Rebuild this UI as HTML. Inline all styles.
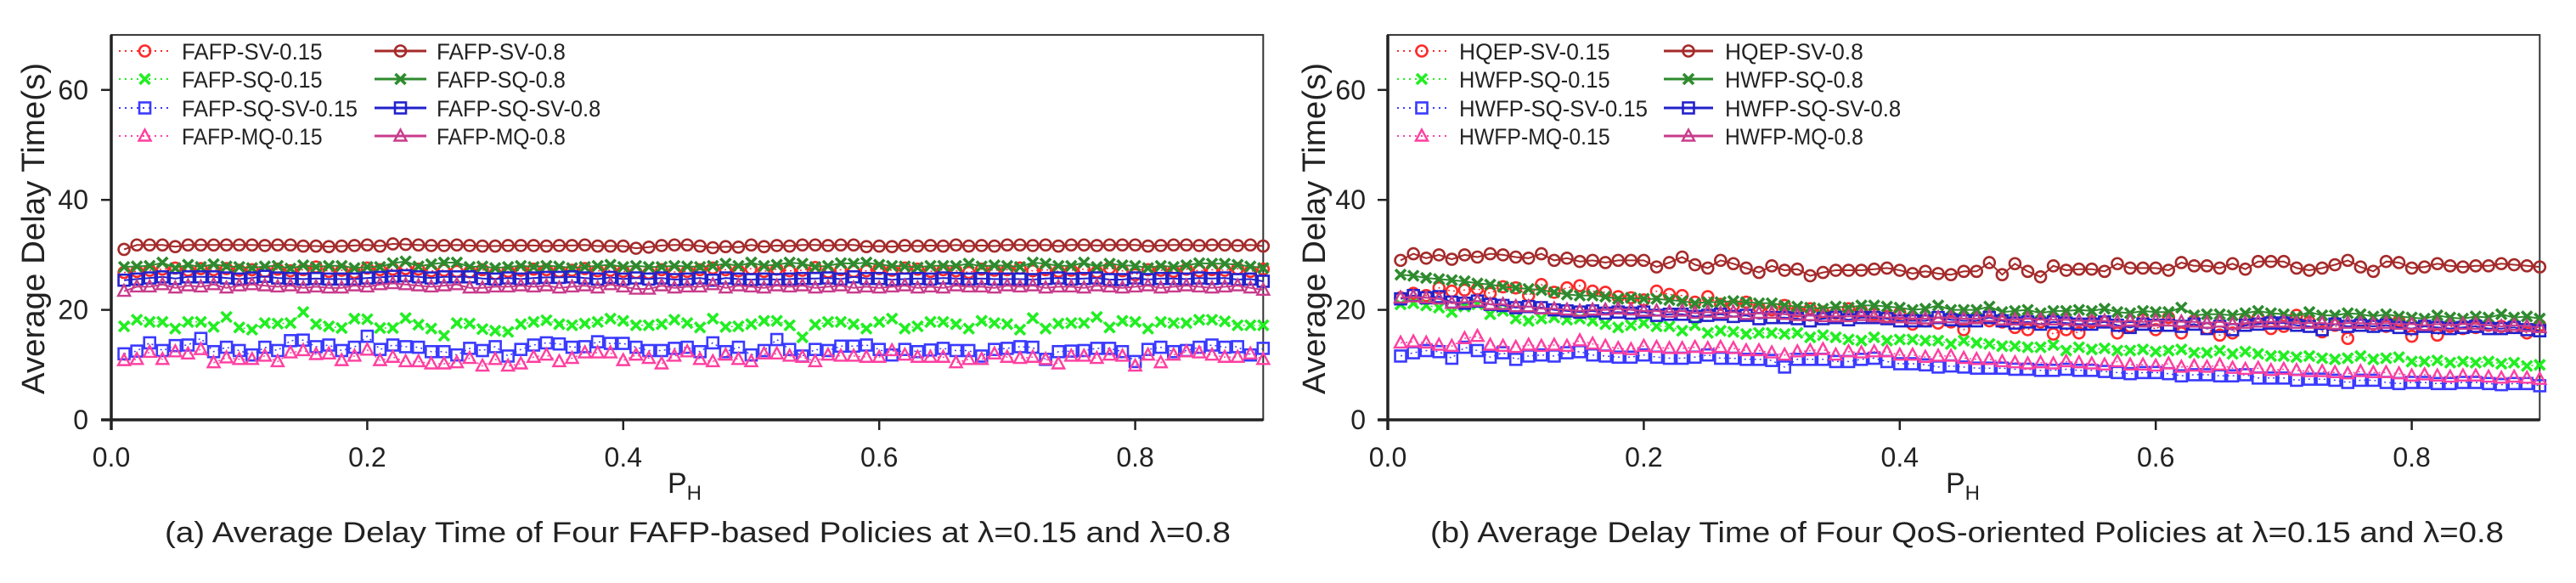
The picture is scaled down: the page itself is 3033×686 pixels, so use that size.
<!DOCTYPE html>
<html><head><meta charset="utf-8"><style>
html,body{margin:0;padding:0;background:#fff;}
svg{display:block;font-family:"Liberation Sans",Arial,sans-serif;}
</style></head><body>
<svg id="chart" width="3033" height="686" viewBox="0 0 3033 686" xmlns="http://www.w3.org/2000/svg"></svg>
<script>
const xTicks=[0.0,0.2,0.4,0.6,0.8];
const xTickLabels=["0.0","0.2","0.4","0.6","0.8"];
const yTicks=[0,20,40,60];
const yTickLabels=["0","20","40","60"];
// panel (a)
const aSV15=[26.8,27.0,27.2,27.4,27.6,27.2,27.5,27.3,27.5,27.2,27.3,27.0,27.4,27.1,27.3,27.8,27.0,27.2,26.8,27.6,27.3,27.4,27.5,27.4,27.1,27.2,27.0,26.9,27.3,26.6,27.0,27.2,27.4,27.3,27.0,27.2,27.5,27.1,27.2,27.0,26.8,26.7,27.3,26.9,27.0,27.3,27.6,27.3,27.1,27.5,27.0,27.4,27.1,27.2,27.7,26.9,27.3,27.0,27.1,27.5,27.2,27.6,27.4,27.0,27.3,27.1,26.8,27.4,27.2,27.3,27.6,27.1,27.3,27.0,27.2,27.4,26.9,27.6,27.1,26.4,27.3,27.2,27.0,27.4,27.1,27.3,27.2,27.5,27.0,27.4];
const aSV8=[31.0,31.8,31.8,31.8,31.5,31.8,31.8,31.8,31.8,31.8,31.8,31.7,31.8,31.8,31.6,31.6,31.5,31.6,31.7,31.8,31.6,32.0,31.9,31.8,31.7,31.7,31.8,31.7,31.6,31.6,31.7,31.7,31.7,31.6,31.7,31.7,31.8,31.6,31.6,31.6,31.2,31.4,31.7,31.8,31.8,31.6,31.3,31.5,31.4,31.8,31.5,31.7,31.6,31.8,31.8,31.7,31.8,31.8,31.5,31.6,31.5,31.7,31.6,31.7,31.6,31.8,31.6,31.7,31.6,31.8,31.8,31.7,31.8,31.6,31.8,31.8,31.7,31.8,31.8,31.8,31.6,31.7,31.8,31.8,31.7,31.8,31.8,31.7,31.8,31.6];
const aSQ15=[17.0,18.2,17.8,17.8,16.6,17.8,17.8,16.9,18.7,16.8,16.4,17.6,17.5,17.6,19.6,17.4,17.0,16.7,18.4,18.3,16.7,16.7,18.5,17.3,16.6,15.3,17.6,17.5,16.5,16.2,16.0,17.4,17.8,18.1,17.4,17.2,17.5,17.8,18.4,18.0,17.2,17.2,17.4,18.2,17.6,16.8,18.4,16.9,17.0,17.4,18.0,18.0,17.2,15.0,17.3,17.8,17.8,17.4,16.6,17.8,18.4,16.6,17.0,17.8,17.8,17.4,16.6,18.0,17.6,17.4,16.4,18.5,16.6,17.5,17.6,17.6,18.7,16.8,18.0,17.8,16.6,17.8,17.6,17.6,18.2,18.2,17.9,17.2,17.2,17.2];
const aSQ8=[27.8,27.9,28.0,28.6,27.6,28.2,27.8,28.3,27.9,27.8,27.6,27.9,28.0,27.5,28.1,27.8,28.0,28.0,27.6,27.8,27.8,28.5,28.8,27.9,28.3,28.6,28.6,27.8,27.9,27.6,27.8,28.0,27.8,28.0,27.9,27.6,27.8,28.0,28.2,27.8,28.0,27.8,27.8,28.0,27.9,27.8,28.0,28.4,28.0,28.6,28.0,28.2,28.6,28.4,27.8,28.0,28.5,28.4,28.6,28.2,28.0,27.9,27.7,28.0,28.0,28.0,28.4,27.9,28.1,28.0,27.8,28.6,28.4,28.0,28.0,28.6,27.8,28.4,28.1,28.0,27.6,28.0,27.8,28.1,28.5,28.4,28.4,28.2,27.9,27.6];
const aSS15=[12.0,12.5,14.0,12.6,13.5,13.6,14.8,12.4,13.2,12.6,11.8,13.2,12.6,14.4,14.5,13.3,13.6,12.6,13.2,15.2,12.8,13.6,13.3,13.2,12.4,12.4,11.8,13.0,12.6,13.3,11.6,12.8,13.6,14.0,13.8,13.2,13.3,14.2,13.9,13.9,13.2,12.6,12.6,13.0,13.2,12.4,14.0,12.4,13.2,11.8,12.6,14.6,12.8,11.6,12.8,12.6,13.4,13.4,13.6,12.8,11.8,12.8,12.4,12.7,13.0,12.6,12.6,11.6,12.8,13.0,13.3,13.2,11.0,12.4,12.5,12.6,13.0,13.0,12.4,10.6,12.8,13.2,12.4,12.6,13.2,13.6,13.2,13.3,11.8,13.0];
const aSS8=[25.4,25.6,25.8,26.0,25.7,26.0,26.0,26.0,25.8,25.6,25.8,26.1,25.8,25.7,25.6,25.7,25.6,25.6,25.6,25.8,25.9,26.1,26.2,26.0,25.8,26.0,26.0,26.0,25.7,25.6,25.8,25.6,25.8,25.9,25.9,26.0,25.8,25.6,25.9,25.6,25.8,25.6,25.8,25.5,25.6,25.8,25.4,25.8,25.6,25.5,25.6,25.5,25.6,25.7,25.7,25.8,25.6,26.0,25.7,25.7,25.5,25.6,25.7,25.6,25.8,25.7,25.6,25.7,25.6,25.6,25.6,25.5,25.7,25.8,25.6,25.7,25.8,25.5,25.5,25.8,25.5,25.7,25.7,25.6,25.8,25.7,25.8,25.5,25.6,25.2];
const aMQ15=[10.8,11.0,12.3,11.0,12.4,12.0,12.8,10.4,11.3,11.0,11.0,11.6,10.6,12.2,12.6,11.9,12.0,10.8,11.6,12.7,10.8,11.4,10.6,10.6,10.2,10.2,10.4,11.2,9.8,11.0,9.8,10.2,11.4,11.8,10.6,11.2,12.2,12.2,12.2,10.8,11.8,11.2,10.2,11.6,12.4,11.0,10.6,11.8,11.0,10.6,12.0,12.0,11.6,11.4,10.6,11.8,11.6,11.6,11.4,11.4,12.6,11.8,11.4,11.4,11.4,10.4,11.0,11.0,12.0,11.4,11.2,11.4,11.0,10.2,11.6,11.6,11.2,11.8,11.6,9.8,11.8,10.4,11.8,12.4,12.2,11.8,11.4,11.4,12.0,11.0];
const aMQ8=[23.4,24.2,24.2,24.6,24.0,24.4,24.2,24.6,24.0,24.4,24.6,24.4,24.2,24.4,24.0,24.2,24.0,24.0,24.4,24.2,24.6,24.8,24.6,24.4,24.2,24.4,24.6,24.0,24.0,24.2,24.2,24.4,24.2,24.4,24.0,24.2,24.4,24.0,24.6,24.2,23.8,23.8,24.4,24.0,24.2,24.2,24.6,24.0,24.4,24.2,24.0,24.4,24.2,24.4,24.0,24.2,24.4,24.0,24.2,24.0,24.2,24.4,24.0,24.2,24.0,24.4,24.2,24.2,24.0,24.4,24.2,24.4,24.0,24.2,24.2,24.0,24.4,24.2,24.0,24.2,24.4,24.0,24.2,24.4,24.2,24.0,24.2,24.4,24.0,23.6];
// panel (b)
const bSV15=[22.2,23.0,22.6,24.0,23.4,23.6,23.8,23.0,24.2,24.0,22.6,24.6,23.2,24.0,24.4,23.4,23.2,22.4,22.2,21.8,23.4,22.8,22.6,21.4,22.4,21.0,20.8,21.4,20.4,20.0,20.8,19.8,20.2,19.6,19.4,20.2,19.8,19.2,18.8,19.4,17.4,18.0,17.6,17.8,16.4,18.6,18.0,17.8,16.8,16.4,17.8,15.6,16.4,15.8,17.8,17.8,15.8,17.0,18.2,16.4,18.6,15.8,18.0,16.6,15.4,15.8,18.2,18.6,16.6,17.0,19.0,17.8,16.0,17.2,14.8,17.8,17.4,17.0,18.0,15.2,17.2,15.4,17.0,16.6,16.8,17.2,17.0,16.8,15.8,17.2];
const bSV8=[29.0,30.2,29.4,30.0,29.2,30.0,29.6,30.2,30.0,29.6,29.4,30.2,29.0,29.4,28.8,29.0,28.6,29.0,29.0,29.0,27.8,28.6,29.6,28.2,27.6,29.0,28.4,27.6,26.8,28.0,27.2,27.4,26.2,26.8,27.2,27.2,27.2,27.4,27.6,27.2,26.6,27.0,26.6,26.4,27.0,27.0,28.6,26.4,28.4,27.0,26.0,28.0,27.2,27.4,27.4,27.0,28.4,27.6,27.6,27.6,27.2,28.6,28.0,28.0,27.6,28.4,27.4,28.8,28.8,28.8,27.6,27.2,27.6,28.2,29.0,27.8,27.0,28.8,28.6,27.6,27.8,28.4,28.0,27.8,28.0,28.0,28.4,28.2,28.0,27.8];
const bSQ15=[21.0,21.2,20.8,20.4,19.6,20.6,21.0,19.2,19.8,18.4,18.0,18.4,18.6,18.2,18.4,18.0,17.4,16.8,17.2,17.6,17.0,17.0,16.2,17.2,15.8,16.2,16.0,15.6,15.8,15.8,15.6,15.8,15.0,15.4,15.0,14.6,14.4,15.0,14.4,14.6,14.6,14.4,14.4,13.8,14.4,14.0,13.8,13.4,13.4,13.2,13.2,13.6,12.6,13.2,12.8,13.0,12.6,12.6,12.8,12.4,12.6,12.8,12.2,12.2,12.6,12.0,12.4,12.0,11.6,11.6,11.4,11.6,11.2,11.0,11.2,11.6,11.0,11.2,11.4,10.6,10.6,10.8,10.4,10.6,10.4,10.6,10.2,10.4,9.8,10.0];
const bSQ8=[26.4,26.2,25.8,25.6,25.4,25.2,24.8,24.6,24.2,24.0,23.8,23.6,23.2,22.8,22.6,22.6,22.4,22.0,22.2,22.0,22.0,21.8,21.6,21.2,21.4,21.4,21.6,21.4,21.2,21.2,20.8,20.6,20.4,20.2,20.6,20.4,20.8,20.8,20.6,20.4,20.0,20.2,20.8,20.0,20.0,20.0,20.6,19.6,19.8,20.0,19.4,19.8,19.8,20.0,19.8,20.2,19.6,19.4,19.8,19.6,19.6,20.4,19.0,19.2,19.2,19.0,19.4,19.8,19.4,19.2,18.8,19.6,19.0,19.0,19.4,19.2,18.8,19.2,18.8,18.6,18.4,19.0,18.6,18.4,18.8,18.6,19.2,18.6,18.8,18.4];
const bSS15=[11.6,12.2,12.6,12.4,11.2,13.2,12.6,11.4,12.2,11.0,11.6,11.8,11.6,12.2,12.4,11.8,11.6,11.4,11.4,11.8,11.4,11.2,11.2,11.4,11.8,11.2,11.2,11.0,11.0,10.8,9.6,11.0,11.0,11.0,10.6,10.6,11.0,11.2,10.6,10.2,10.2,10.0,9.6,9.8,9.6,9.4,9.4,9.4,9.2,9.2,9.0,9.0,9.2,9.0,9.0,8.8,8.6,8.4,8.6,8.6,8.4,8.0,8.2,8.2,8.0,8.0,8.2,7.6,7.6,7.6,7.2,7.4,7.4,7.2,6.8,7.2,7.2,6.8,6.6,6.8,6.8,6.6,6.6,6.8,6.8,6.6,6.4,6.6,6.6,6.2];
const bSS8=[22.0,22.6,22.2,22.4,21.4,21.2,21.6,21.0,20.8,20.4,20.6,20.4,20.0,19.8,19.6,19.8,19.4,19.6,19.4,19.6,19.0,19.2,19.2,18.8,19.0,19.2,18.8,19.0,18.4,18.6,18.6,18.4,18.0,18.4,18.6,18.2,18.6,18.6,18.4,18.0,18.0,18.0,18.6,18.2,18.0,18.0,18.6,18.0,17.6,17.8,17.4,17.8,17.6,17.4,17.4,17.8,17.2,16.8,17.4,17.2,17.2,17.0,17.4,16.6,17.0,16.4,17.2,17.4,17.6,17.6,17.2,17.0,16.4,17.4,17.0,17.2,17.0,17.2,16.8,16.6,17.0,16.8,16.6,16.8,17.0,16.6,16.6,16.8,16.4,16.2];
const bMQ15=[14.0,14.2,14.0,13.6,13.4,14.8,15.2,13.6,13.4,13.2,13.6,13.4,13.6,13.4,14.4,13.8,13.4,13.0,12.8,13.4,13.2,13.0,13.0,13.2,13.0,13.2,13.0,12.6,12.6,12.2,11.8,12.4,12.6,12.8,11.8,12.4,12.2,12.4,12.4,11.8,11.8,11.4,11.6,11.6,11.2,11.0,11.0,10.6,10.4,10.2,10.4,10.2,10.6,10.4,10.2,10.0,10.6,10.0,10.0,9.8,10.2,9.6,9.8,9.6,10.0,9.4,9.2,9.4,9.0,9.2,9.0,8.8,8.8,8.6,8.4,8.8,8.6,8.6,8.4,8.0,8.2,8.0,7.8,8.0,8.0,7.8,7.6,7.8,7.6,7.4];
const bMQ8=[22.2,22.4,22.2,22.0,21.2,21.4,21.6,21.0,21.0,20.6,20.6,20.2,20.2,20.0,19.8,20.0,20.0,20.2,20.0,19.8,19.8,19.6,19.8,19.4,19.6,19.4,19.6,19.2,19.4,19.4,19.2,19.0,19.0,18.8,18.8,18.8,19.0,18.8,18.6,18.6,18.4,18.4,18.6,18.6,18.4,18.4,18.8,18.2,18.2,18.4,18.2,18.2,18.2,18.0,18.0,18.0,17.8,18.0,17.8,18.0,18.0,17.8,17.8,17.6,17.8,17.4,17.6,17.8,17.8,17.8,17.6,17.6,17.6,17.4,17.6,17.6,17.4,17.6,17.4,17.4,17.2,17.4,17.2,17.4,17.4,17.2,17.0,17.2,17.0,16.8];

const NS='http://www.w3.org/2000/svg';
const svg=document.getElementById('chart');
function mk(tag,attrs,parent){const e=document.createElementNS(NS,tag);for(const k in attrs)e.setAttribute(k,attrs[k]);(parent||svg).appendChild(e);return e;}

function marker(g,type,cx,cy,color){
  let e;
  if(type==='circle'){e=mk('circle',{cx:cx,cy:cy,r:6.5,fill:'none',stroke:color,'stroke-width':2.6},g);}
  else if(type==='square'){e=mk('rect',{x:cx-6.5,y:cy-6.5,width:13,height:13,fill:'none',stroke:color,'stroke-width':2.6},g);}
  else if(type==='tri'){e=mk('polygon',{points:(cx)+','+(cy-7.5)+' '+(cx-7)+','+(cy+5.5)+' '+(cx+7)+','+(cy+5.5),fill:'none',stroke:color,'stroke-width':2.4},g);}
  else {e=mk('path',{d:'M'+(cx-6)+' '+(cy-6)+'L'+(cx+6)+' '+(cy+6)+'M'+(cx+6)+' '+(cy-6)+'L'+(cx-6)+' '+(cy+6),fill:'none',stroke:color,'stroke-width':3.6},g);}
  return e;
}

function panel(cfg){
  const x0=cfg.x0, pxPerX=1507, y0=494, pxPerY=6.47, xmax=0.9, ymax=70;
  const xs=v=>x0+v*pxPerX, ys=v=>y0-v*pxPerY;
  const right=xs(xmax), top=ys(ymax);
  const g=mk('g',{});
  
  
  const fr=mk('rect',{x:x0,y:top,width:right-x0,height:y0-top,fill:'none',stroke:'#333','stroke-width':2},g);
  
  
  const xa=mk('line',{x1:x0-12,y1:y0,x2:right,y2:y0,stroke:'#222','stroke-width':3.5},g);
  
  
  const ya=mk('line',{x1:x0,y1:top,x2:x0,y2:y0+12,stroke:'#222','stroke-width':3.5},g);
  
  
  xTicks.forEach((t,i)=>{
    mk('line',{x1:xs(t),y1:y0,x2:xs(t),y2:y0+12,stroke:'#222','stroke-width':2.5},g);
    const tx=mk('text',{x:xs(t),y:549,'font-size':cfg.tickFs,'text-anchor':'middle',fill:'#222'},g);
    tx.textContent=xTickLabels[i];
    
    
  });
  yTicks.forEach((t,i)=>{
    mk('line',{x1:x0-12,y1:ys(t),x2:x0,y2:ys(t),stroke:'#222','stroke-width':2.5},g);
    const tx=mk('text',{x:cfg.yLabX,y:ys(t)+11,'font-size':cfg.tickFs,'text-anchor':'end',fill:'#222'},g);
    tx.textContent=yTickLabels[i];
    
    
  });
  const yt=mk('text',{x:0,y:0,'font-size':cfg.ytFs,'text-anchor':'middle',fill:'#222',transform:'translate('+(cfg.ytX)+',269) rotate(-90)',textLength:390,lengthAdjust:'spacingAndGlyphs'},g);
  yt.textContent='Average Delay Time(s)';
  
  
  const xt=mk('text',{x:cfg.phX,y:580,'font-size':34,'text-anchor':'middle',fill:'#222'},g);
  xt.innerHTML='P<tspan font-size="24" dy="8">H</tspan>';
  
  
  const cap=mk('text',{x:cfg.capX,y:638,'font-size':34,fill:'#222',textLength:cfg.capW,lengthAdjust:'spacingAndGlyphs'},g);
  cap.textContent=cfg.caption;
  
  
  cfg.series.forEach((s,si)=>{
    const sg=mk('g',{},g);
    
    
    const pts=s.data.map((v,i)=>xs((i+1)*0.01).toFixed(1)+','+ys(v).toFixed(1)).join(' ');
    const pl=mk('polyline',{points:pts,fill:'none',stroke:s.color,'stroke-width':s.solid?2:1.5,'stroke-dasharray':s.solid?'':'2 4'},sg);
    
    
    s.data.forEach((v,i)=>{
      const m=marker(sg,s.marker,xs((i+1)*0.01),ys(v),s.color);
      
      
    });
    const col=s.solid?1:0, row=si>>1;
    const ly=[60,93,127,160][row];
    const lx1=cfg.legLine[col][0], lx2=cfg.legLine[col][1];
    const lg=mk('g',{},g);
    
    
    mk('line',{x1:lx1,y1:ly,x2:lx2,y2:ly,stroke:s.color,'stroke-width':s.solid?3:2,'stroke-dasharray':s.solid?'':'2 5'},lg);
    marker(lg,s.marker,(lx1+lx2)/2,ly,s.color);
    const lt=mk('text',{x:cfg.legText[col],y:ly+10,'font-size':27,fill:'#222',textLength:s.label.length*cfg.legCharW,lengthAdjust:'spacingAndGlyphs'},lg);
    lt.textContent=s.label;
    
    
  });
}

const C={sv15:'#ff2a2a',sv8:'#a52a2a',sq15:'#22ee22',sq8:'#2e8b2e',ss15:'#3a3aff',ss8:'#2222cc',mq15:'#ff3fa0',mq8:'#c83c8c'};
panel({name:'panel-a',x0:131,tickFs:32,yLabX:104,ytX:52,ytFs:38,phX:806,capX:194,capW:1255,
  caption:'(a) Average Delay Time of Four FAFP-based Policies at \u03bb=0.15 and \u03bb=0.8',
  legLine:[[140,201],[441,502]],legText:[214,514],legCharW:13.8,
  series:[
    {label:'FAFP-SV-0.15',data:aSV15,color:C.sv15,marker:'circle',solid:false},
    {label:'FAFP-SV-0.8',data:aSV8,color:C.sv8,marker:'circle',solid:true},
    {label:'FAFP-SQ-0.15',data:aSQ15,color:C.sq15,marker:'x',solid:false},
    {label:'FAFP-SQ-0.8',data:aSQ8,color:C.sq8,marker:'x',solid:true},
    {label:'FAFP-SQ-SV-0.15',data:aSS15,color:C.ss15,marker:'square',solid:false},
    {label:'FAFP-SQ-SV-0.8',data:aSS8,color:C.ss8,marker:'square',solid:true},
    {label:'FAFP-MQ-0.15',data:aMQ15,color:C.mq15,marker:'tri',solid:false},
    {label:'FAFP-MQ-0.8',data:aMQ8,color:C.mq8,marker:'tri',solid:true}]});
panel({name:'panel-b',x0:1634,tickFs:32,yLabX:1608,ytX:1560,ytFs:38,phX:2311,capX:1684,capW:1264,
  caption:'(b) Average Delay Time of Four QoS-oriented Policies at \u03bb=0.15 and \u03bb=0.8',
  legLine:[[1645,1703],[1959,2017]],legText:[1718,2031],legCharW:14.8,
  series:[
    {label:'HQEP-SV-0.15',data:bSV15,color:C.sv15,marker:'circle',solid:false},
    {label:'HQEP-SV-0.8',data:bSV8,color:C.sv8,marker:'circle',solid:true},
    {label:'HWFP-SQ-0.15',data:bSQ15,color:C.sq15,marker:'x',solid:false},
    {label:'HWFP-SQ-0.8',data:bSQ8,color:C.sq8,marker:'x',solid:true},
    {label:'HWFP-SQ-SV-0.15',data:bSS15,color:C.ss15,marker:'square',solid:false},
    {label:'HWFP-SQ-SV-0.8',data:bSS8,color:C.ss8,marker:'square',solid:true},
    {label:'HWFP-MQ-0.15',data:bMQ15,color:C.mq15,marker:'tri',solid:false},
    {label:'HWFP-MQ-0.8',data:bMQ8,color:C.mq8,marker:'tri',solid:true}]});
</script>
</body></html>
